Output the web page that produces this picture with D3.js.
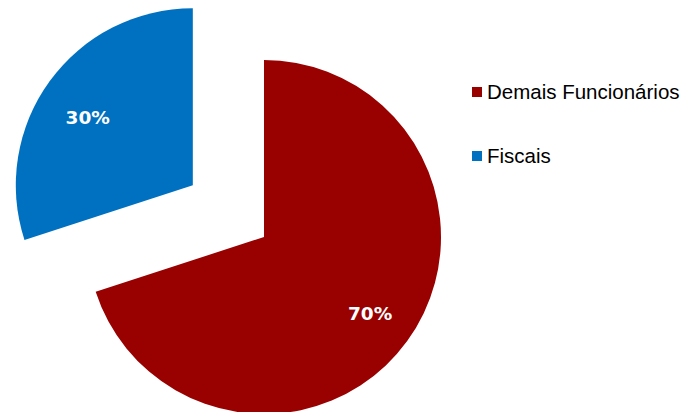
<!DOCTYPE html>
<html lang="pt">
<head>
    <meta charset="UTF-8">
    <title>D3.js Pie Chart</title>
    <script src="https://d3js.org/d3.v7.min.js"></script>
    <style>
        body { margin: 0; background: #fff; }
        text { font-family: "Liberation Sans", Arial, sans-serif; }
    </style>
</head>
<body>
    <script>
        const categories = ["Demais Funcionários", "Fiscais"];
        const values = [70, 30];
        const colors = ["#990000", "#0070C0"];

        const width = 692;
        const height = 412;
        const radius = 177;
        const cx = 264, cy = 237;
        const explode = [0, 88];       // pull-out distance per slice
        const labelShift = [[3, 1], [-2, 7]]; // small label nudges, like Excel's placement

        const svg = d3.select("body")
        .append("svg")
        .attr("width", width)
        .attr("height", height);

        const pie = d3.pie()
        .sort(null)
        .value(d => d.value);

        const arc = d3.arc()
        .innerRadius(0)
        .outerRadius(radius);

        const labelArc = d3.arc()
        .innerRadius(radius * 0.72)
        .outerRadius(radius * 0.72);

        const data = categories.map((c, i) => ({ name: c, value: values[i], color: colors[i], i: i }));
        const total = d3.sum(values);

        // Slices
        const slices = svg.append("g")
        .attr("transform", `translate(${cx},${cy})`)
        .selectAll("g")
        .data(pie(data))
        .enter()
        .append("g")
        .attr("transform", d => {
            const mid = (d.startAngle + d.endAngle) / 2;
            const off = explode[d.data.i];
            return `translate(${Math.sin(mid) * off},${-Math.cos(mid) * off})`;
        });

        slices.append("path")
        .attr("d", arc)
        .style("fill", d => d.data.color);

        // Percent labels
        slices.append("text")
        .attr("transform", d => {
            const [x, y] = labelArc.centroid(d);
            const [sx, sy] = labelShift[d.data.i];
            return `translate(${x + sx},${y + sy})`;
        })
        .attr("text-anchor", "middle")
        .attr("dy", "0.36em")
        .style("font-family", "'DejaVu Sans', sans-serif")
        .style("font-weight", "bold")
        .style("font-size", "18.5px")
        .style("fill", "white")
        .text(d => Math.round(d.data.value / total * 100) + "%");

        // Legend
        const legend = svg.append("g")
        .selectAll("g")
        .data(data)
        .enter()
        .append("g")
        .attr("transform", (d, i) => `translate(472, ${92 + i * 64})`);

        legend.append("rect")
        .attr("x", 0)
        .attr("y", -5)
        .attr("width", 10)
        .attr("height", 10)
        .style("fill", d => d.color);

        legend.append("text")
        .attr("x", 15)
        .attr("y", 7)
        .style("font-size", "20.5px")
        .style("fill", "#000")
        .text(d => d.name);
    </script>
</body>
</html>
